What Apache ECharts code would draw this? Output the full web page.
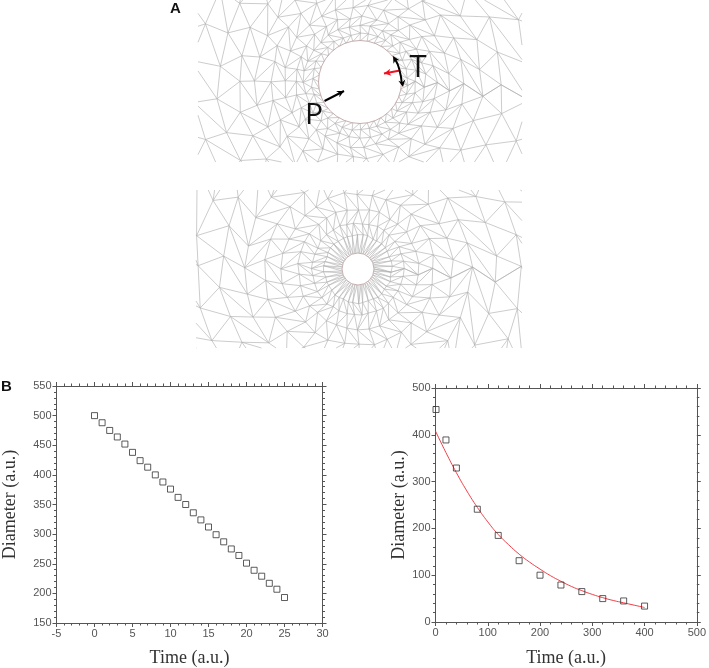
<!DOCTYPE html>
<html><head><meta charset="utf-8">
<style>html,body{margin:0;padding:0;background:#fff}#c{width:709px;height:668px}</style>
<script src="https://cdn.jsdelivr.net/npm/echarts@6/dist/echarts.min.js"></script>
</head><body><div id="c"></div>
<script>
// Panel B, left
const linTime = [0,1,2,3,4,5,6,7,8,9,10,11,12,13,14,15,16,17,18,19,20,21,22,23,24,25];
const linDiameter = [500,488,475,464,452,438,424,413,400,388,376,362,350,336,324,312,299,287,275,264,251,239,229,217,207,193];
// Panel B, right
const decayTime = [1,20,40,80,120,160,200,240,280,320,360,400];
const decayDiameter = [454,389,329,241,185,131,100,79,65,50,45,34];
const fitTime = [0,20,40,60,80,100,120,140,160,180,200,220,240,260,280,300,320,340,360,380,400];
const fitDiameter = [408,362,319,280,245,214,187,165,145,128,113,99,87,76,67,59,52,46,41,36,31];

// Panel A illustration parameters (schematic finite element mesh)
const meshTopRadii = [41,48,56,65,76,89,104,122,143,168,198,234];
const meshTopCounts = [36,34,32,31,30,29,28,27,27,26,26,26];
const meshBotRadii = [16,34,46,60,76,94,114,137,163,194,230];
const meshBotCounts = [50,42,38,34,32,30,28,28,28,28,28];

const MESH_COLOR = '#b0b0b0';
function clipSeg(a,b,R){
  let t0=0,t1=1;const dx=b[0]-a[0],dy=b[1]-a[1];
  const ps=[-dx,dx,-dy,dy],qs=[a[0]-R.x0,R.x1-a[0],a[1]-R.y0,R.y1-a[1]];
  for(let i=0;i<4;i++){
    if(ps[i]===0){if(qs[i]<0)return null;continue;}
    const t=qs[i]/ps[i];
    if(ps[i]<0){if(t>t1)return null;if(t>t0)t0=t;}
    else{if(t<t0)return null;if(t<t1)t1=t;}
  }
  return [a[0]+t0*dx,a[1]+t0*dy,a[0]+t1*dx,a[1]+t1*dy];
}
function meshLines(cx,cy,radii,counts,R,seed){
  const out=[];
  const rings=radii.map((r,k)=>{
    const n=counts[k],pts=[];
    for(let i=0;i<n;i++){
      const amp=k===0?0:Math.min(6,Math.max(1.5,r*0.035));
      const j1=Math.sin(i*12.9898+k*78.233+seed)*43758.5453;
      const j2=Math.sin(i*39.346+k*11.135+seed)*24634.6345;
      const a=(i+(k%2)*0.5)/n*2*Math.PI;
      const rr=r+amp*(2*(j1-Math.floor(j1))-1)*0.6;
      const aa=a+(amp/r)*(2*(j2-Math.floor(j2))-1)*0.6;
      pts.push([cx+rr*Math.cos(aa),cy+rr*Math.sin(aa),aa]);
    }
    return pts;
  });
  const add=(a,b)=>{const s=clipSeg(a,b,R);if(s)out.push(s);};
  rings.forEach((pts,k)=>{
    if(k>0)pts.forEach((p,i)=>add(p,pts[(i+1)%pts.length]));
    if(k<rings.length-1){
      const q=rings[k+1];let i=0,j=0;const n=pts.length,m=q.length;
      add(pts[0],q[0]);
      while(i<n||j<m){
        if(j>=m||(i<n&&(i+1)/n<(j+1)/m)){i++;}else{j++;}
        add(pts[i%n],q[j%m]);
      }
    }
  });
  return out;
}
const graphics=[];
function addMesh(segs){
  segs.forEach(s=>graphics.push({type:'line',silent:true,z:1,
    shape:{x1:s[0],y1:s[1],x2:s[2],y2:s[3]},
    style:{stroke:MESH_COLOR,lineWidth:0.65}}));
}
function addHole(cx,cy,r){
  graphics.push({type:'circle',silent:true,z:2,shape:{cx,cy,r},
    style:{fill:'#fff',stroke:'#b79a9a',lineWidth:0.8}});
}
function head(x,y,ang,color,size){
  const c=Math.cos(ang),s=Math.sin(ang);
  const bx=x-size*c,by=y-size*s,w=size*0.5;
  graphics.push({type:'polygon',silent:true,z:4,shape:{points:[[x,y],[bx-w*s,by+w*c],[bx+size*0.3*c,by+size*0.3*s],[bx+w*s,by-w*c]]},style:{fill:color}});
}
function arrow(x1,y1,x2,y2,color,lw,size){
  graphics.push({type:'line',silent:true,z:4,shape:{x1,y1,x2,y2},style:{stroke:color,lineWidth:lw}});
  head(x2,y2,Math.atan2(y2-y1,x2-x1),color,size);
}
addMesh(meshLines(360,82,meshTopRadii,meshTopCounts,{x0:198,x1:522,y0:0,y1:162},1.3));
addHole(360,82,41.5);
addMesh(meshLines(358,269,meshBotRadii,meshBotCounts,{x0:196,x1:522,y0:190,y1:348},4.7));
addHole(358,269,16);

arrow(324.5,101,344,91,'#000',2,7);
arrow(400,70.5,384,73.5,'#f01020',2,7);
graphics.push({type:'bezierCurve',silent:true,z:4,
  shape:{x1:395.5,y1:60,x2:402,y2:84.5,cpx1:400,cpy1:67,cpx2:401,cpy2:75},
  style:{stroke:'#000',lineWidth:2,fill:'none'}});
head(393,56,-2.1,'#000',7);
head(403,87,1.4,'#000',7);

const txt=(text,x,y,font,fill)=>graphics.push({type:'text',silent:true,z:5,x,y,
  style:{text,font,fill,textAlign:'left',textVerticalAlign:'top'}});
txt('A',170,1,'bold 15px "Liberation Sans"','#111');
txt('B',1,379,'bold 15px "Liberation Sans"','#111');
txt('T',409.5,53,'31px "Open Sans"','#111');
txt('P',305,100,'30px "Open Sans"','#111');

const AXC='#555';
function mainAxis(pos,min,max,interval,name,gap,idx){
  return {type:'value',gridIndex:idx,position:pos,min,max,interval,
    name,nameLocation:'middle',nameGap:gap,
    nameTextStyle:{fontFamily:'Liberation Serif',fontSize:18,color:'#333'},
    axisLine:{show:true,onZero:false,lineStyle:{color:AXC,width:1}},
    axisTick:{show:true,inside:false,length:4,lineStyle:{color:AXC}},
    minorTick:{show:true,splitNumber:5,length:2.5,lineStyle:{color:AXC}},
    axisLabel:{show:true,margin:5,fontFamily:'Liberation Sans',fontSize:11,color:'#555',hideOverlap:false,showMinLabel:true,showMaxLabel:true},
    splitLine:{show:false}};
}
function mirror(pos,min,max,interval,idx){
  return {type:'value',gridIndex:idx,position:pos,min,max,interval,
    axisLine:{show:true,onZero:false,lineStyle:{color:AXC,width:1}},
    axisTick:{show:true,inside:false,length:4,lineStyle:{color:AXC}},
    minorTick:{show:true,splitNumber:5,length:2.5,lineStyle:{color:AXC}},
    axisLabel:{show:false},splitLine:{show:false}};
}
const squareStyle={color:'#fff',borderColor:'#333',borderWidth:1};
const chart=echarts.init(document.getElementById('c'),null,{renderer:'canvas'});
chart.setOption({
  animation:false,
  backgroundColor:'#fff',
  graphic:{elements:graphics},
  grid:[
    {left:56.5,top:386,width:266,height:238,containLabel:false},
    {left:435.5,top:388,width:265.5,height:237.5,containLabel:false}
  ],
  xAxis:[
    mainAxis('bottom',-5,30,5,'Time (a.u.)',26,0),
    mirror('top',-5,30,5,0),
    mainAxis('bottom',0,500,100,'Time (a.u.)',27,1),
    mirror('top',0,500,100,1)
  ],
  yAxis:[
    mainAxis('left',150,550,50,'Diameter (a.u.)',37,0),
    mirror('right',150,550,50,0),
    mainAxis('left',0,500,100,'Diameter (a.u.)',27,1),
    mirror('right',0,500,100,1)
  ],
  series:[
    {type:'scatter',name:'Linear',xAxisIndex:0,yAxisIndex:0,symbol:'rect',symbolSize:6,
      itemStyle:squareStyle,data:linTime.map((t,i)=>[t,linDiameter[i]])},
    {type:'line',name:'Fit',xAxisIndex:2,yAxisIndex:2,smooth:true,showSymbol:false,symbol:'none',
      lineStyle:{color:'#f0404a',width:1},z:2,data:fitTime.map((t,i)=>[t,fitDiameter[i]])},
    {type:'scatter',name:'Decay',xAxisIndex:2,yAxisIndex:2,symbol:'rect',symbolSize:6,z:3,
      itemStyle:{color:'rgba(255,255,255,0)',borderColor:'#333',borderWidth:1},
      data:decayTime.map((t,i)=>[t,decayDiameter[i]])}
  ]
});
</script></body></html>
